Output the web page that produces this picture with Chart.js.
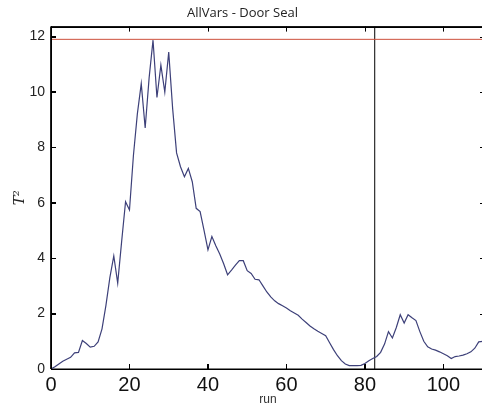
<!DOCTYPE html>
<html>
<head>
<meta charset="utf-8">
<script src="https://cdn.jsdelivr.net/npm/chart.js@4/dist/chart.umd.min.js"></script>
<style>
  html, body { margin: 0; padding: 0; overflow: hidden; background: #fff; }
  #wrap { width: 485px; height: 408px; }
</style>
</head>
<body>
<div id="wrap"><canvas id="t2Canvas" width="485" height="408"></canvas></div>
<script>
// run number and T^2 value
const runs = [];
for (let i = 0; i <= 111; i++) runs.push(i);
const t2 = [
  0.00,
  0.08, 0.18, 0.28, 0.35, 0.42, 0.58, 0.60, 1.03, 0.92, 0.79,
  0.82, 0.98, 1.45, 2.30, 3.30, 4.08, 3.10, 4.60, 6.04, 5.74,
  7.70, 9.20, 10.30, 8.70, 10.50, 11.87, 9.80, 10.97, 10.00, 11.44,
  9.40, 7.80, 7.30, 6.94, 7.24, 6.76, 5.80, 5.68, 5.00, 4.30,
  4.78, 4.45, 4.15, 3.80, 3.40, 3.57, 3.75, 3.91, 3.91, 3.55,
  3.45, 3.24, 3.22, 3.00, 2.78, 2.60, 2.46, 2.36, 2.28, 2.20,
  2.10, 2.02, 1.94, 1.80, 1.68, 1.55, 1.45, 1.36, 1.28, 1.20,
  0.95, 0.70, 0.48, 0.30, 0.18, 0.12, 0.12, 0.12, 0.13, 0.20,
  0.30, 0.38, 0.45, 0.60, 0.90, 1.35, 1.12, 1.50, 1.96, 1.66,
  1.96, 1.85, 1.75, 1.35, 1.00, 0.80, 0.72, 0.68, 0.62, 0.55,
  0.48, 0.38, 0.45, 0.47, 0.50, 0.55, 0.62, 0.75, 0.98, 1.00,
  1.00
];

// control limit (red) and phase split (black)
const limitValue = 11.9;
const splitRun = 82.5;

// axis range and ticks
const xRange = [0, 110.6];
const yRange = [0, 12.36];
const xTicks = [0, 20, 40, 60, 80, 100];
const yTicks = [0, 2, 4, 6, 8, 10, 12];

function setTicks(list) {
  return function (scale) {
    scale.ticks = list.map(function (v) { return { value: v }; });
  };
}

// inward tick marks and box, MATLAB style
const boxTicks = {
  id: 'boxTicks',
  afterDraw(chart) {
    const c = chart.ctx;
    const a = chart.chartArea;
    const sx = chart.scales.x;
    const sy = chart.scales.y;
    const len = 5;
    c.save();
    // reset canvas state in case something was left over
    c.setTransform(1, 0, 0, 1, 0, 0);
    c.globalAlpha = 1;
    c.globalCompositeOperation = 'source-over';
    c.setLineDash([]);
    c.lineDashOffset = 0;
    c.shadowColor = 'rgba(0,0,0,0)';
    c.filter = 'none';
    c.strokeStyle = '#000';
    c.lineWidth = 1;
    c.lineCap = 'butt';
    c.beginPath();
    xTicks.forEach(function (v) {
      const px = Math.round(sx.getPixelForValue(v)) + 0.5;
      c.moveTo(px, a.bottom);
      c.lineTo(px, a.bottom - len);
      c.moveTo(px, a.top);
      c.lineTo(px, a.top + len);
    });
    yTicks.forEach(function (v) {
      const py = Math.round(sy.getPixelForValue(v)) + 0.5;
      c.moveTo(a.left, py);
      c.lineTo(a.left + len, py);
      c.moveTo(a.right, py);
      c.lineTo(a.right - len, py);
    });
    c.stroke();
    c.strokeRect(Math.round(a.left) + 0.5, Math.round(a.top) + 0.5,
      Math.round(a.right - a.left) - 1, Math.round(a.bottom - a.top));
    c.restore();
  }
};

const t2Chart = new Chart(document.getElementById('t2Canvas').getContext('2d'), {
  type: 'line',
  data: {
    datasets: [
      {
        label: 'T2',
        data: runs.map(function (r, i) { return { x: r, y: t2[i] }; }),
        borderColor: '#3d4079',
        borderWidth: 1.2,
        pointRadius: 0,
        tension: 0,
      },
      {
        label: 'limit',
        data: [{ x: xRange[0], y: limitValue }, { x: xRange[1], y: limitValue }],
        borderColor: 'rgb(205, 80, 60)',
        borderWidth: 1,
        pointRadius: 0,
      },
      {
        label: 'split',
        data: [{ x: splitRun, y: yRange[0] }, { x: splitRun, y: yRange[1] }],
        borderColor: '#000',
        borderWidth: 1,
        pointRadius: 0,
      },
      {
        // axes box
        label: 'frame',
        data: [
          { x: xRange[0], y: yRange[0] }, { x: xRange[1], y: yRange[0] },
          { x: xRange[1], y: yRange[1] }, { x: xRange[0], y: yRange[1] },
          { x: xRange[0], y: yRange[0] }
        ],
        borderColor: '#000',
        borderWidth: 1,
        pointRadius: 0,
        clip: 2,
      }
    ]
  },
  plugins: [boxTicks],
  options: {
    responsive: false,
    animation: false,
    devicePixelRatio: 1,
    layout: { padding: 0 },
    plugins: {
      legend: { display: false },
      tooltip: { enabled: false },
      title: {
        display: true,
        text: 'AllVars - Door Seal',
        color: '#222',
        font: { family: 'Open Sans', size: 13, weight: 'normal' },
        padding: { top: 5, bottom: 6 }
      }
    },
    scales: {
      x: {
        type: 'linear',
        min: xRange[0],
        max: xRange[1],
        afterBuildTicks: setTicks(xTicks),
        afterFit: function (scale) { scale.height = 39; },
        grid: { display: true, drawOnChartArea: false, tickLength: -5, tickColor: '#000' },
        border: { display: true, color: '#000', width: 1 },
        ticks: {
          color: '#111',
          padding: 9,
          maxRotation: 0,
          font: { family: 'Liberation Sans', size: 20 }
        },
        title: {
          display: true,
          text: 'run',
          color: '#333',
          font: { family: 'Liberation Sans', size: 12 },
          padding: { top: 0, bottom: 1 }
        }
      },
      y: {
        min: yRange[0],
        max: yRange[1],
        afterBuildTicks: setTicks(yTicks),
        afterFit: function (scale) { scale.width = 51; },
        grid: { display: true, drawOnChartArea: false, tickLength: -5, tickColor: '#000' },
        border: { display: true, color: '#000', width: 1 },
        ticks: {
          color: '#222',
          padding: 11,
          font: { family: 'Liberation Sans', size: 14 }
        },
        title: {
          display: true,
          text: 'T\u00b2',
          color: '#222',
          font: { family: 'DejaVu Serif', size: 14, style: 'italic' },
          padding: { top: 12, bottom: 0 }
        }
      }
    }
  }
});
</script>
</body>
</html>
